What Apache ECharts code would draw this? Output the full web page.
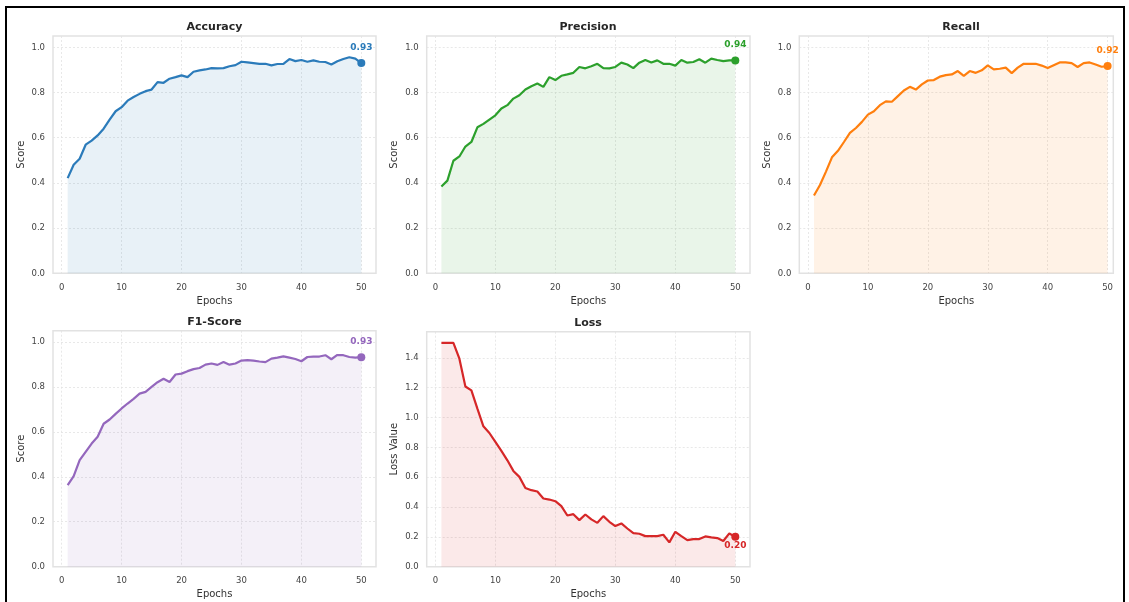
<!DOCTYPE html>
<html><head><meta charset="utf-8">
<script src="https://cdn.jsdelivr.net/npm/echarts@6/dist/echarts.min.js"></script>
<style>
html,body{margin:0;padding:0;background:#fff;width:1129px;height:602px;overflow:hidden}
#chart{position:absolute;left:0;top:0;width:1129px;height:602px}
#frame{position:absolute;left:5px;top:6px;width:1116px;height:600px;border:2px solid #000;border-bottom:none;pointer-events:none}
</style></head><body>
<div id="chart"></div><div id="frame"></div>
<script>
const epochs = [1,2,3,4,5,6,7,8,9,10,11,12,13,14,15,16,17,18,19,20,21,22,23,24,25,26,27,28,29,30,31,32,33,34,35,36,37,38,39,40,41,42,43,44,45,46,47,48,49,50];
const accuracy = [0.421,0.48,0.507,0.569,0.587,0.61,0.64,0.68,0.717,0.735,0.764,0.78,0.794,0.806,0.813,0.846,0.843,0.861,0.868,0.876,0.868,0.892,0.898,0.902,0.908,0.907,0.908,0.916,0.921,0.936,0.933,0.93,0.927,0.927,0.92,0.926,0.927,0.948,0.939,0.944,0.936,0.942,0.936,0.935,0.924,0.938,0.948,0.956,0.95,0.93];
const precision = [0.384,0.41,0.498,0.517,0.561,0.581,0.646,0.661,0.68,0.699,0.729,0.744,0.773,0.788,0.813,0.828,0.84,0.825,0.868,0.855,0.874,0.88,0.887,0.913,0.907,0.916,0.927,0.908,0.907,0.913,0.932,0.924,0.908,0.932,0.944,0.933,0.942,0.927,0.927,0.919,0.944,0.932,0.935,0.947,0.932,0.95,0.944,0.939,0.942,0.942];
const recall = [0.344,0.391,0.45,0.513,0.542,0.581,0.621,0.643,0.67,0.702,0.717,0.744,0.761,0.759,0.784,0.809,0.825,0.813,0.836,0.853,0.855,0.87,0.877,0.88,0.895,0.874,0.895,0.887,0.898,0.92,0.902,0.905,0.91,0.886,0.91,0.927,0.927,0.927,0.919,0.908,0.921,0.933,0.933,0.93,0.913,0.93,0.933,0.924,0.914,0.917];
const f1score = [0.363,0.403,0.474,0.511,0.548,0.578,0.636,0.655,0.68,0.704,0.726,0.747,0.77,0.778,0.8,0.821,0.836,0.822,0.855,0.859,0.87,0.879,0.884,0.899,0.904,0.898,0.911,0.899,0.904,0.917,0.919,0.917,0.913,0.91,0.926,0.93,0.936,0.93,0.924,0.914,0.933,0.935,0.935,0.941,0.923,0.942,0.941,0.933,0.93,0.932];
const loss = [1.5,1.5,1.5,1.394,1.208,1.182,1.059,0.941,0.896,0.836,0.776,0.713,0.642,0.602,0.528,0.513,0.504,0.457,0.45,0.439,0.406,0.343,0.352,0.312,0.35,0.317,0.294,0.339,0.301,0.272,0.29,0.256,0.225,0.221,0.205,0.205,0.205,0.214,0.163,0.234,0.205,0.178,0.185,0.185,0.203,0.196,0.192,0.172,0.223,0.2];
const xTicks = [0,10,20,30,40,50];
const scoreTicks = [0,0.2,0.4,0.6,0.8,1.0];
const lossTicks = [0,0.2,0.4,0.6,0.8,1.0,1.2,1.4];

const FONT = 'DejaVu Sans';
const panels = [
  {title:'Accuracy', data:accuracy, color:'#2b7bba', fill:'#1f77b4', yName:'Score', ymax:1.05, ticks:scoreTicks, xmax:52.45, rect:{left:53, top:36, width:323, height:237.3}, tc:214.5, pos:'top'},
  {title:'Precision', data:precision, color:'#2ca02c', fill:'#2ca02c', yName:'Score', ymax:1.05, ticks:scoreTicks, xmax:52.45, rect:{left:426.7, top:36, width:323.3, height:237.3}, tc:588, pos:'top'},
  {title:'Recall', data:recall, color:'#ff7f0e', fill:'#ff7f0e', yName:'Score', ymax:1.05, ticks:scoreTicks, xmax:50.95, rect:{left:799.3, top:36, width:314, height:237.3}, tc:961, pos:'top'},
  {title:'F1-Score', data:f1score, color:'#9467bd', fill:'#9467bd', yName:'Score', ymax:1.05, ticks:scoreTicks, xmax:52.45, rect:{left:53, top:330.7, width:323, height:236}, tc:214.5, pos:'top'},
  {title:'Loss', data:loss, color:'#d62728', fill:'#d62728', yName:'Loss Value', ymax:1.575, ticks:lossTicks, xmax:52.45, rect:{left:426.7, top:331.7, width:323.3, height:235}, tc:588, pos:'bottom'}
];

const option = {animation:false, textStyle:{fontFamily:FONT}, title:[], grid:[], xAxis:[], yAxis:[], series:[]};
const splitStyle = {show:true, lineStyle:{color:'#e2e2e2', type:[2,2], width:0.8}};
panels.forEach((p, i) => {
  const r = p.rect;
  option.grid.push(Object.assign({show:true, borderColor:'#e2e2e2', borderWidth:1.5, backgroundColor:'#fff', outerBoundsMode:'none', containLabel:false}, r));
  option.title.push({text:p.title, left:p.tc, top:r.top - 14, textAlign:'center', padding:0,
    textStyle:{fontSize:11, fontWeight:'bold', color:'#262626', fontFamily:FONT}});
  option.xAxis.push({gridIndex:i, type:'value', min:-1.45, max:p.xmax,
    axisLine:{show:false}, axisTick:{show:false, customValues:xTicks},
    axisLabel:{customValues:xTicks, fontSize:8.5, color:'#444', margin:10, fontFamily:FONT},
    splitLine:splitStyle,
    name:'Epochs', nameLocation:'middle', nameGap:23, nameTextStyle:{fontSize:10, color:'#333', fontFamily:FONT}});
  option.yAxis.push({gridIndex:i, type:'value', min:0, max:p.ymax,
    axisLine:{show:false}, axisTick:{show:false, customValues:p.ticks},
    axisLabel:{customValues:p.ticks, fontSize:8.5, color:'#444', margin:8, fontFamily:FONT, formatter:v=>Number(v).toFixed(1)},
    splitLine:splitStyle,
    name:p.yName, nameLocation:'middle', nameGap:27, nameRotate:90, nameTextStyle:{fontSize:10, color:'#333', fontFamily:FONT}});
  option.series.push({type:'line', xAxisIndex:i, yAxisIndex:i, silent:true,
    data:epochs.map((e,k)=>[e, p.data[k]]), showSymbol:false, symbol:'none',
    lineStyle:{width:2.2, color:p.color}, itemStyle:{color:p.color},
    areaStyle:{color:p.fill, opacity:0.1}});
  const n = p.data.length;
  option.series.push({type:'scatter', xAxisIndex:i, yAxisIndex:i, silent:true,
    data:[[epochs[n-1], p.data[n-1]]], symbolSize:8, itemStyle:{color:p.color, opacity:1},
    label:{show:true, position:p.pos, distance:p.pos==='top'?7:0, formatter:q=>q.value[1].toFixed(2),
      fontSize:9, fontWeight:'bold', color:p.color, opacity:1, fontFamily:FONT}});
});
const chart = echarts.init(document.getElementById('chart'), null, {renderer:'canvas'});
chart.setOption(option);
</script>
</body></html>
